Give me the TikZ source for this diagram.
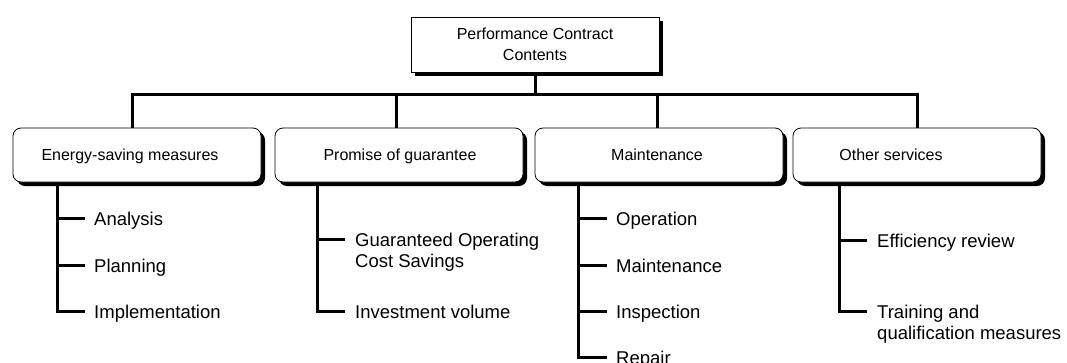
\documentclass[tikz,border=0pt]{standalone}
\usepackage{fontspec}
\setmainfont{Liberation Sans}
\usetikzlibrary{shadows}
\begin{document}
\begin{tikzpicture}[x=1pt,y=-1pt,
  blackshadow/.style={drop shadow={shadow xshift=4pt,shadow yshift=-4pt,fill=black,opacity=1}},
  topbox/.style={draw=black,line width=0.8pt,fill=white,minimum width=248pt,minimum height=55pt,inner sep=0pt,blackshadow,font=\fontsize{16}{21}\selectfont,align=center},
  catbox/.style={draw=black,line width=0.8pt,fill=white,rounded corners=8pt,minimum width=248pt,minimum height=54pt,inner sep=0pt,blackshadow},
  cattext/.style={anchor=base,inner sep=0pt,font=\fontsize{16}{19}\selectfont},
  itemtext/.style={anchor=base west,inner sep=0pt,font=\fontsize{18.5}{21.5}\selectfont,align=left},
  conn/.style={line width=3pt}
]
\useasboundingbox (0,0) rectangle (1067,362);

% top box
\node[topbox] (top) at (535,44.5) {Performance Contract\\Contents};

% category boxes
\node[catbox] (c1) at (137,155) {};
\node[catbox] (c2) at (399,155) {};
\node[catbox] (c3) at (659,155) {};
\node[catbox] (c4) at (917,155) {};
\node[cattext] (l1) at (130,160) {Energy-saving measures};
\node[cattext] (l2) at (400,160) {Promise of guarantee};
\node[cattext] (l3) at (657,160) {Maintenance};
\node[cattext] (l4) at (891,160) {Other services};

% tree connectors
\coordinate (s1) at (132,94);
\coordinate (s2) at (396,94);
\coordinate (s3) at (657,94);
\coordinate (s4) at (917,94);
\draw[conn] (top.south) -- (top.south |- s1);
\draw[conn] (s1 |- c1.north) -- (s1) -- (s4) -- (s4 |- c4.north);
\draw[conn] (s2) -- (s2 |- c2.north);
\draw[conn] (s3) -- (s3 |- c3.north);

% item ticks
\coordinate (t11) at (85,218);
\coordinate (t12) at (85,265);
\coordinate (t13) at (85,311);
\coordinate (t21) at (345,239);
\coordinate (t22) at (345,311);
\coordinate (t31) at (607,218);
\coordinate (t32) at (607,265);
\coordinate (t33) at (607,311);
\coordinate (t34) at (607,357);
\coordinate (t41) at (867,240);
\coordinate (t42) at (867,311);

\coordinate (v1) at (57,184);
\coordinate (v2) at (317,184);
\coordinate (v3) at (578,184);
\coordinate (v4) at (839,184);

\draw[conn] (v1) |- (t13);
\draw[conn] (v1 |- t11) -- (t11);
\draw[conn] (v1 |- t12) -- (t12);
\draw[conn] (v2) |- (t22);
\draw[conn] (v2 |- t21) -- (t21);
\draw[conn] (v3) |- (t34);
\draw[conn] (v3 |- t31) -- (t31);
\draw[conn] (v3 |- t32) -- (t32);
\draw[conn] (v3 |- t33) -- (t33);
\draw[conn] (v4) |- (t42);
\draw[conn] (v4 |- t41) -- (t41);

% item texts
\node[itemtext] (i11) at ([xshift=9pt,yshift=-7pt]t11) {Analysis};
\node[itemtext] (i12) at ([xshift=9pt,yshift=-7pt]t12) {Planning};
\node[itemtext] (i13) at ([xshift=9pt,yshift=-7pt]t13) {Implementation};
\node[itemtext] (i21) at ([xshift=10pt,yshift=-28.5pt]t21) {Guaranteed Operating\\Cost Savings};
\node[itemtext] (i22) at ([xshift=10pt,yshift=-7pt]t22) {Investment volume};
\node[itemtext] (i31) at ([xshift=9pt,yshift=-7pt]t31) {Operation};
\node[itemtext] (i32) at ([xshift=9pt,yshift=-7pt]t32) {Maintenance};
\node[itemtext] (i33) at ([xshift=9pt,yshift=-7pt]t33) {Inspection};
\node[itemtext] (i34) at ([xshift=9pt,yshift=-7pt]t34) {Repair};
\node[itemtext] (i41) at ([xshift=10pt,yshift=-7pt]t41) {Efficiency review};
\node[itemtext] (i42) at ([xshift=10pt,yshift=-28.5pt]t42) {Training and\\qualification measures};
\end{tikzpicture}
\end{document}
